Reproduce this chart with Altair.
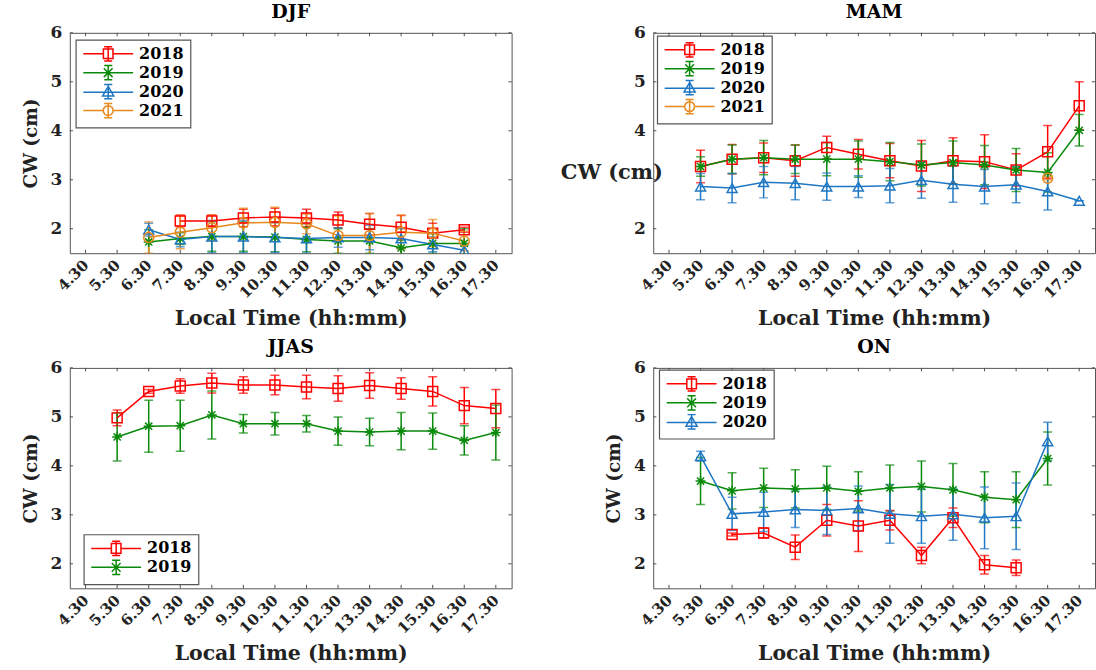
import altair as alt
import pandas as pd

# Hour-of-day tick labels along the x axis (index 0..13)
time_labels = ["4.30", "5.30", "6.30", "7.30", "8.30", "9.30", "10.30",
               "11.30", "12.30", "13.30", "14.30", "15.30", "16.30", "17.30"]

year_colors = {"2018": "#FF0000", "2019": "#0A8A0A", "2020": "#1F77C4", "2021": "#E8891C"}

# Marker paths (unit box -1..1)
square = "square"
asterisk = "M-1,0H1M0,-1V1M-0.72,-0.72L0.72,0.72M-0.72,0.72L0.72,-0.72"
triangle = "triangle-up"
circle = "circle"
year_markers = {"2018": square, "2019": asterisk, "2020": triangle, "2021": circle}

# Legend glyphs: line + marker + error bar with caps
_bar = "M0,-1.1V1.1M-0.62,-1.1H0.62M-0.62,1.1H0.62"
legend_glyphs = {
    "2018": "M-3.85,0H-0.74M0.74,0H3.85M-0.74,-0.74H0.74V0.74H-0.74Z" + _bar,
    "2019": "M-3.85,0H3.85M-0.68,-0.68L0.68,0.68M-0.68,0.68L0.68,-0.68" + _bar,
    "2020": "M-3.85,0.1H3.85M0,-0.8L0.86,0.68H-0.86Z" + _bar,
    "2021": "M-3.85,0H-0.76M0.76,0H3.85M0.76,0A0.76,0.76 0 1,1 -0.76,0A0.76,0.76 0 1,1 0.76,0Z" + _bar,
}

# ---- DJF ----
djf_2018_idx = [3, 4, 5, 6, 7, 8, 9, 10, 11, 12]
djf_2018_val = [2.16, 2.16, 2.22, 2.24, 2.22, 2.18, 2.09, 2.03, 1.91, 1.98]
djf_2018_err = [0.12, 0.12, 0.18, 0.18, 0.18, 0.16, 0.22, 0.24, 0.20, 0.05]
djf_2019_idx = [2, 3, 4, 5, 6, 7, 8, 9, 10, 11, 12]
djf_2019_val = [1.73, 1.80, 1.84, 1.84, 1.83, 1.78, 1.75, 1.75, 1.61, 1.70, 1.70]
djf_2019_err = [0.25, 0.12, 0.30, 0.30, 0.30, 0.25, 0.25, 0.25, 0.15, 0.20, 0.30]
djf_2020_idx = [2, 3, 4, 5, 6, 7, 8, 9, 10, 11, 12]
djf_2020_val = [1.98, 1.78, 1.84, 1.84, 1.82, 1.80, 1.82, 1.82, 1.80, 1.68, 1.56]
djf_2020_err = [0.13, 0.15, 0.33, 0.33, 0.30, 0.30, 0.20, 0.25, 0.20, 0.15, 0.10]
djf_2021_idx = [2, 3, 4, 5, 6, 7, 8, 9, 10, 11, 12]
djf_2021_val = [1.82, 1.93, 2.02, 2.12, 2.13, 2.10, 1.86, 1.86, 1.93, 1.91, 1.75]
djf_2021_err = [0.32, 0.34, 0.26, 0.30, 0.31, 0.20, 0.40, 0.45, 0.35, 0.28, 0.20]

# ---- MAM ----
mam_2018_idx = [1, 2, 3, 4, 5, 6, 7, 8, 9, 10, 11, 12, 13]
mam_2018_val = [3.27, 3.42, 3.45, 3.39, 3.66, 3.52, 3.39, 3.28, 3.39, 3.37, 3.20, 3.57, 4.51]
mam_2018_err = [0.33, 0.30, 0.30, 0.32, 0.23, 0.30, 0.35, 0.52, 0.47, 0.55, 0.33, 0.54, 0.49]
mam_2019_idx = [1, 2, 3, 4, 5, 6, 7, 8, 9, 10, 11, 12, 13]
mam_2019_val = [3.27, 3.42, 3.45, 3.42, 3.42, 3.42, 3.37, 3.30, 3.35, 3.30, 3.20, 3.15, 4.01]
mam_2019_err = [0.20, 0.29, 0.35, 0.29, 0.34, 0.37, 0.39, 0.43, 0.44, 0.40, 0.44, 0.40, 0.32]
mam_2020_idx = [1, 2, 3, 4, 5, 6, 7, 8, 9, 10, 11, 12, 13]
mam_2020_val = [2.86, 2.83, 2.95, 2.93, 2.86, 2.86, 2.88, 2.99, 2.91, 2.86, 2.90, 2.76, 2.57]
mam_2020_err = [0.27, 0.30, 0.32, 0.34, 0.28, 0.22, 0.35, 0.37, 0.37, 0.35, 0.37, 0.38, 0.0]
mam_2021_idx = [12]
mam_2021_val = [3.03]
mam_2021_err = [0.03]

# ---- JJAS ----
jjas_2018_idx = [1, 2, 3, 4, 5, 6, 7, 8, 9, 10, 11, 12, 13]
jjas_2018_val = [4.98, 5.52, 5.63, 5.69, 5.65, 5.65, 5.61, 5.58, 5.64, 5.58, 5.52, 5.23, 5.17]
jjas_2018_err = [0.16, 0.04, 0.15, 0.20, 0.17, 0.20, 0.24, 0.26, 0.26, 0.22, 0.30, 0.37, 0.39]
jjas_2019_idx = [1, 2, 3, 4, 5, 6, 7, 8, 9, 10, 11, 12, 13]
jjas_2019_val = [4.59, 4.81, 4.82, 5.04, 4.86, 4.86, 4.86, 4.71, 4.69, 4.71, 4.71, 4.52, 4.68]
jjas_2019_err = [0.49, 0.53, 0.52, 0.49, 0.19, 0.23, 0.17, 0.29, 0.28, 0.38, 0.37, 0.30, 0.56]

# ---- ON ----
on_2018_idx = [2, 3, 4, 5, 6, 7, 8, 9, 10, 11]
on_2018_val = [2.60, 2.63, 2.34, 2.89, 2.77, 2.89, 2.17, 2.94, 1.98, 1.92]
on_2018_err = [0.03, 0.10, 0.25, 0.32, 0.52, 0.20, 0.17, 0.20, 0.19, 0.16]
on_2019_idx = [1, 2, 3, 4, 5, 6, 7, 8, 9, 10, 11, 12]
on_2019_val = [3.69, 3.49, 3.55, 3.53, 3.55, 3.48, 3.55, 3.58, 3.51, 3.36, 3.31, 4.15]
on_2019_err = [0.48, 0.37, 0.40, 0.39, 0.44, 0.40, 0.47, 0.52, 0.54, 0.52, 0.57, 0.54]
on_2020_idx = [1, 2, 3, 4, 5, 6, 7, 8, 9, 10, 11, 12]
on_2020_val = [4.20, 3.02, 3.06, 3.11, 3.09, 3.13, 3.02, 2.97, 3.01, 2.94, 2.97, 4.50]
on_2020_err = [0.10, 0.34, 0.40, 0.37, 0.49, 0.46, 0.60, 0.55, 0.53, 0.63, 0.68, 0.39]

panels = {
    "DJF": {"2018": (djf_2018_idx, djf_2018_val, djf_2018_err),
            "2019": (djf_2019_idx, djf_2019_val, djf_2019_err),
            "2020": (djf_2020_idx, djf_2020_val, djf_2020_err),
            "2021": (djf_2021_idx, djf_2021_val, djf_2021_err)},
    "MAM": {"2018": (mam_2018_idx, mam_2018_val, mam_2018_err),
            "2019": (mam_2019_idx, mam_2019_val, mam_2019_err),
            "2020": (mam_2020_idx, mam_2020_val, mam_2020_err),
            "2021": (mam_2021_idx, mam_2021_val, mam_2021_err)},
    "JJAS": {"2018": (jjas_2018_idx, jjas_2018_val, jjas_2018_err),
             "2019": (jjas_2019_idx, jjas_2019_val, jjas_2019_err)},
    "ON": {"2018": (on_2018_idx, on_2018_val, on_2018_err),
           "2019": (on_2019_idx, on_2019_val, on_2019_err),
           "2020": (on_2020_idx, on_2020_val, on_2020_err)},
}

# Legend placement inside each panel (pixels from the plot's top-left)
legend_pos = {"DJF": (6, 7), "MAM": (4, 3), "JJAS": (14, 167), "ON": (6, 2)}

W, H = 443, 221
FONT = "DejaVu Serif"
label_array = "[" + ",".join(f"'{t}'" for t in time_labels) + "]"
x_scale = alt.Scale(domain=[-0.5, 13.5], nice=False, zero=False)
y_scale = alt.Scale(domain=[1.5, 6], nice=False, zero=False)


def x_axis():
    return alt.Axis(values=list(range(len(time_labels))), labelExpr=f"{label_array}[datum.value]",
                    labelAngle=-45, labelAlign="right", labelBaseline="middle",
                    labelOverlap=False, labelBound=False, labelFlush=False,
                    labelFontSize=15, labelPadding=9, title="Local Time (hh:mm)",
                    titleFontSize=20.5, titlePadding=8)


def y_axis(name):
    kw = dict(values=[2, 3, 4, 5, 6], labelFontSize=17, labelPadding=8,
              title="CW (cm)", titleFontSize=18.5, titlePadding=10)
    if name == "MAM":
        kw.update(labelExpr="datum.value == 3 ? '' : datum.label", titleAngle=0,
                  titleX=-42, titleY=140, titleAlign="center", titleBaseline="middle",
                  titleFontSize=21)
    return alt.Axis(**kw)


def make_panel(name):
    series = panels[name]
    rows = []
    for yr, (idx, val, err) in series.items():
        for i, v, e in zip(idx, val, err):
            rows.append({"year": yr, "idx": i, "value": v, "lo": v - e, "hi": v + e})
    df = pd.DataFrame(rows)
    yrs = list(series.keys())
    cols = [year_colors[y] for y in yrs]

    X = alt.X("idx:Q", scale=x_scale, axis=x_axis())
    yax = y_axis(name)

    def Y(field):
        return alt.Y(f"{field}:Q", scale=y_scale, axis=yax)

    color = alt.Color("year:N", scale=alt.Scale(domain=yrs, range=cols), legend=None)
    base = alt.Chart(df)

    bars = base.mark_rule(strokeWidth=1.5, clip=True).encode(x=X, y=Y("lo"), y2="hi:Q", color=color)
    cap_lo = base.mark_tick(orient="horizontal", size=9, thickness=1.5, clip=True).encode(
        x=X, y=Y("lo"), color=color)
    cap_hi = base.mark_tick(orient="horizontal", size=9, thickness=1.5, clip=True).encode(
        x=X, y=Y("hi"), color=color)
    line = base.mark_line(strokeWidth=1.5, clip=True).encode(x=X, y=Y("value"), color=color)
    pts = base.mark_point(filled=False, size=100, strokeWidth=1.5, opacity=1, clip=True).encode(
        x=X, y=Y("value"), color=color,
        shape=alt.Shape("year:N", scale=alt.Scale(domain=yrs, range=[year_markers[y] for y in yrs]),
                        legend=None))

    lx, ly = legend_pos[name]
    leg = alt.Legend(orient="none", legendX=lx, legendY=ly, title=None)
    legend_layer = base.transform_filter("datum.idx < -1").mark_point(
        filled=False, size=169, strokeWidth=1.5, opacity=1).encode(
        x=X, y=Y("value"),
        color=alt.Color("year:N", scale=alt.Scale(domain=yrs, range=cols), legend=leg),
        shape=alt.Shape("year:N", scale=alt.Scale(domain=yrs, range=[legend_glyphs[y] for y in yrs]),
                        legend=leg))

    # inward tick marks along the four sides of the box
    tick_df = pd.DataFrame({"idx": list(range(len(time_labels)))})
    ytick_df = pd.DataFrame({"v": [2, 3, 4, 5, 6], "x0": -0.5, "x1": -0.4, "x2": 13.5, "x3": 13.4})
    tc = "#4d4d4d"
    t_bottom = alt.Chart(tick_df).mark_rule(color=tc, strokeWidth=1).encode(
        x=X, y=alt.datum(1.5), y2=alt.datum(1.57))
    t_top = alt.Chart(tick_df).mark_rule(color=tc, strokeWidth=1).encode(
        x=X, y=alt.datum(6.0), y2=alt.datum(5.93))
    t_left = alt.Chart(ytick_df).mark_rule(color=tc, strokeWidth=1).encode(
        y=alt.Y("v:Q", scale=y_scale, axis=yax),
        x=alt.X("x0:Q", scale=x_scale, axis=x_axis()), x2="x1:Q")
    t_right = alt.Chart(ytick_df).mark_rule(color=tc, strokeWidth=1).encode(
        y=alt.Y("v:Q", scale=y_scale, axis=yax),
        x=alt.X("x2:Q", scale=x_scale, axis=x_axis()), x2="x3:Q")

    return alt.layer(t_bottom, t_top, t_left, t_right, bars, cap_lo, cap_hi, line, pts,
                     legend_layer).resolve_scale(
        color="independent", shape="independent").properties(
        width=W, height=H, title=name)


chart = alt.concat(
    make_panel("DJF"), make_panel("MAM"), make_panel("JJAS"), make_panel("ON"),
    columns=2, spacing={"row": 115, "column": 142}, bounds="flush",
).resolve_scale(
    color="independent", shape="independent", x="independent", y="independent"
).properties(
    padding={"left": 20, "top": 1, "right": 0, "bottom": 0}
).configure(
    background="white", font=FONT,
).configure_view(
    stroke="#555555", strokeWidth=1,
).configure_axis(
    labelFont=FONT, labelFontWeight="bold", labelColor="#222222",
    titleFont=FONT, titleFontWeight="bold", titleColor="#222222",
    domain=False, ticks=False, grid=False, labelOverlap=False,
).configure_title(
    font=FONT, fontWeight="bold", fontSize=19, color="#000000", offset=2,
).configure_legend(
    padding=6, strokeColor="#555555", fillColor="white", strokeWidth=1.2,
    labelFont=FONT, labelFontWeight="bold", labelFontSize=16, labelColor="#000000",
    symbolSize=169, symbolStrokeWidth=1.5, symbolOffset=18.5, labelOffset=23, rowPadding=-3,
)

chart.save("out.html", embed_options={"renderer": "svg", "actions": False})
